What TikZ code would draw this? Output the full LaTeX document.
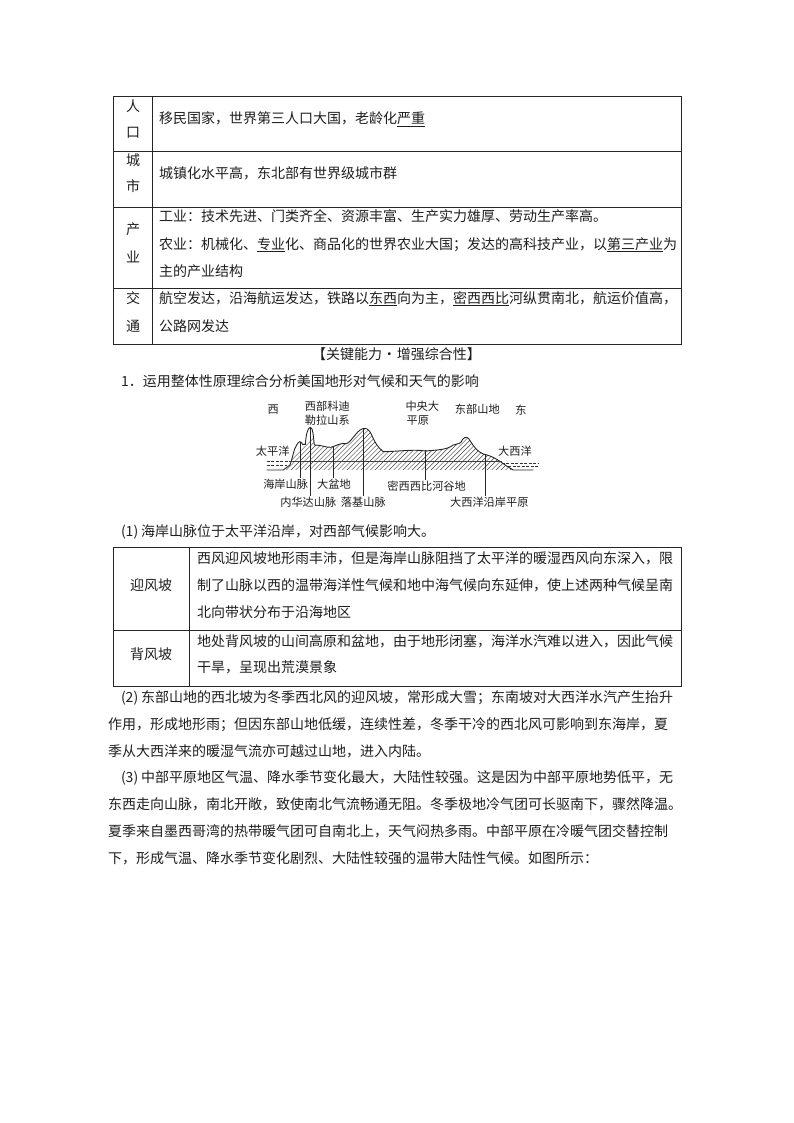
\documentclass[tikz,border=0pt]{standalone}
\usepackage{fontspec}
\setmainfont{Noto Sans CJK SC}
\newcommand{\bodysize}{\fontsize{14}{14}\selectfont}
\newcommand{\smallsize}{\fontsize{11.2}{11.2}\selectfont}
\tikzset{
  txt/.style={anchor=base west,inner sep=0pt,outer sep=0pt,font=\bodysize,text=black!88},
  ctr/.style={anchor=base,inner sep=0pt,outer sep=0pt,font=\bodysize,text=black!88},
  lab/.style={anchor=center,inner sep=0pt,outer sep=1pt,font=\smallsize,text=black!88},
  rule/.style={line width=0.9pt,draw=black!85},
  leader/.style={line width=0.7pt,draw=black!85},
  land/.style={line width=0.9pt,draw=black!85},
  hatchline/.style={line width=0.45pt,draw=black!75},
  sea/.style={line width=0.5pt,draw=black!80,dash pattern=on 3pt off 1.5pt}
}
\begin{document}
\begin{tikzpicture}[x=1pt,y=-1pt]
\useasboundingbox[fill=white] (0,0) rectangle (794,1123);
% first table
\draw[rule] (113,96) rectangle (681,344);
\foreach \yy in {151,207,288} \draw[rule] (113,\yy) -- (681,\yy);
\draw[rule] (152,96) -- (152,344);
\node[ctr] (a1) at (133,112) {人};
\node[ctr] (a2) at (133,138) {口};
\node[txt] (a3) at (159,124) {移民国家，世界第三人口大国，老龄化\underline{严重}};
\node[ctr] (b1) at (133,166) {城};
\node[ctr] (b2) at (133,192) {市};
\node[txt] (b3) at (159,179) {城镇化水平高，东北部有世界级城市群};
\node[ctr] (c1) at (133,235) {产};
\node[ctr] (c2) at (133,262) {业};
\node[txt] (c3) at (159,222) {工业：技术先进、门类齐全、资源丰富、生产实力雄厚、劳动生产率高。};
\node[txt] (c4) at (159,249) {农业：机械化、\underline{专业}化、商品化的世界农业大国；发达的高科技产业，以\underline{第三产业}为};
\node[txt] (c5) at (159,276) {主的产业结构};
\node[ctr] (d1) at (133,303) {交};
\node[ctr] (d2) at (133,331) {通};
\node[txt] (d3) at (159,303) {航空发达，沿海航运发达，铁路以\underline{东西}向为主，\underline{密西西比}河纵贯南北，航运价值高，};
\node[txt] (d4) at (159,331) {公路网发达};
% headings
\node[ctr] (h1) at (396.5,359) {【关键能力\hspace{0.5pt}·\hspace{0.5pt}增强综合性】};
\node[txt] (h2) at (121,386) {1．运用整体性原理综合分析美国地形对气候和天气的影响};
% cross-section, drawn in the coordinates of a 3x crop
\begin{scope}[shift={(240,395)},x=0.3333pt,y=-0.3333pt]
  \begin{scope}
    \clip (130,225) -- (150,210) .. controls (158,190) and (160,165) .. (170,150)
      .. controls (175,140) and (182,135) .. (188,148) -- (196,148)
      .. controls (198,120) and (203,97) .. (211,97) .. controls (219,97) and (220,125) .. (223,150)
      .. controls (245,150) and (255,157) .. (272,157) .. controls (285,155) and (300,142) .. (320,146)
      .. controls (340,135) and (352,100) .. (375,100) .. controls (398,102) and (395,145) .. (430,170)
      .. controls (470,170) and (520,162) .. (556,168) .. controls (590,165) and (620,165) .. (640,150)
      .. controls (655,145) and (662,148) .. (668,133) .. controls (675,124) and (685,124) .. (692,140)
      .. controls (702,155) and (712,170) .. (730,177) .. controls (770,185) and (790,210) .. (820,225) -- cycle;
    \foreach \k in {0,...,70} \draw[hatchline] (120+\k*14,230) -- ++(140,-140);
  \end{scope}
  \draw[land] (80,225) -- (130,225) -- (150,210) .. controls (158,190) and (160,165) .. (170,150)
      .. controls (175,140) and (182,135) .. (188,148) -- (196,148)
      .. controls (198,120) and (203,97) .. (211,97) .. controls (219,97) and (220,125) .. (223,150)
      .. controls (245,150) and (255,157) .. (272,157) .. controls (285,155) and (300,142) .. (320,146)
      .. controls (340,135) and (352,100) .. (375,100) .. controls (398,102) and (395,145) .. (430,170)
      .. controls (470,170) and (520,162) .. (556,168) .. controls (590,165) and (620,165) .. (640,150)
      .. controls (655,145) and (662,148) .. (668,133) .. controls (675,124) and (685,124) .. (692,140)
      .. controls (702,155) and (712,170) .. (730,177) .. controls (770,185) and (790,210) .. (820,225) -- (880,225);
  \draw[line width=0.45pt,draw=black!75] (150,199) -- (785,199);
  \draw[sea] (80,199) -- (150,199);
  \draw[sea] (80,212) -- (140,212);
  \draw[sea] (785,205) -- (895,205);
  \draw[sea] (805,215) -- (895,215);
  \node[lab] (w) at (100,45) {西};
  \node[lab] (r1) at (262,35) {西部科迪};
  \node[lab] (r2) at (262,75) {勒拉山系};
  \node[lab] (p1) at (547,35) {中央大};
  \node[lab,anchor=west] (p2) at (497,78) {平原};
  \node[lab] (em) at (712,42) {东部山地};
  \node[lab] (e) at (843,45) {东};
  \node[lab] (pac) at (98,170) {太平洋};
  \node[lab] (atl) at (825,170) {大西洋};
  \node[lab] (ca) at (137,268) {海岸山脉};
  \node[lab] (gb) at (282,268) {大盆地};
  \node[lab] (mi) at (560,275) {密西西比河谷地};
  \node[lab] (ne) at (205,322) {内华达山脉};
  \node[lab] (ro) at (370,322) {落基山脉};
  \node[lab] (ac) at (748,322) {大西洋沿岸平原};
  \coordinate (tca) at (180,140);
  \coordinate (tne) at (212,97);
  \coordinate (tgb) at (281,155);
  \coordinate (tro) at (370,100);
  \coordinate (tmi) at (556,166);
  \coordinate (tac) at (735,178);
  \draw[leader] (tca) -- (tca |- ca.north);
  \draw[leader] (tne) -- (tne |- ne.north);
  \draw[leader] (tgb) -- (tgb |- gb.north);
  \draw[leader] (tro) -- (tro |- ro.north);
  \draw[leader] (tmi) -- (tmi |- mi.north);
  \draw[leader] (tac) -- (tac |- ac.north);
\end{scope}
\node[txt] (s1) at (121,536) {(1)\hspace{3pt}海岸山脉位于太平洋沿岸，对西部气候影响大。};
% second table
\draw[rule] (113,547) rectangle (681,686);
\draw[rule] (113,630) -- (681,630);
\draw[rule] (189,547) -- (189,686);
\node[ctr] (e1) at (151,590) {迎风坡};
\node[txt] (e2) at (197,563) {西风迎风坡地形雨丰沛，但是海岸山脉阻挡了太平洋的暖湿西风向东深入，限};
\node[txt] (e3) at (197,590) {制了山脉以西的温带海洋性气候和地中海气候向东延伸，使上述两种气候呈南};
\node[txt] (e4) at (197,617) {北向带状分布于沿海地区};
\node[ctr] (f1) at (151,659) {背风坡};
\node[txt] (f2) at (197,646) {地处背风坡的山间高原和盆地，由于地形闭塞，海洋水汽难以进入，因此气候};
\node[txt] (f3) at (197,672) {干旱，呈现出荒漠景象};
% paragraphs
\node[txt] (g1) at (121,702) {(2)\hspace{3pt}东部山地的西北坡为冬季西北风的迎风坡，常形成大雪；东南坡对大西洋水汽产生抬升};
\node[txt] (g2) at (108,729) {作用，形成地形雨；但因东部山地低缓，连续性差，冬季干冷的西北风可影响到东海岸，夏};
\node[txt] (g3) at (108,756) {季从大西洋来的暖湿气流亦可越过山地，进入内陆。};
\node[txt] (g4) at (121,782) {(3)\hspace{3pt}中部平原地区气温、降水季节变化最大，大陆性较强。这是因为中部平原地势低平，无};
\node[txt] (g5) at (108,809) {东西走向山脉，南北开敞，致使南北气流畅通无阻。冬季极地冷气团可长驱南下，骤然降温。};
\node[txt] (g6) at (108,836) {夏季来自墨西哥湾的热带暖气团可自南北上，天气闷热多雨。中部平原在冷暖气团交替控制};
\node[txt] (g7) at (108,863) {下，形成气温、降水季节变化剧烈、大陆性较强的温带大陆性气候。如图所示：};
\end{tikzpicture}
\end{document}
